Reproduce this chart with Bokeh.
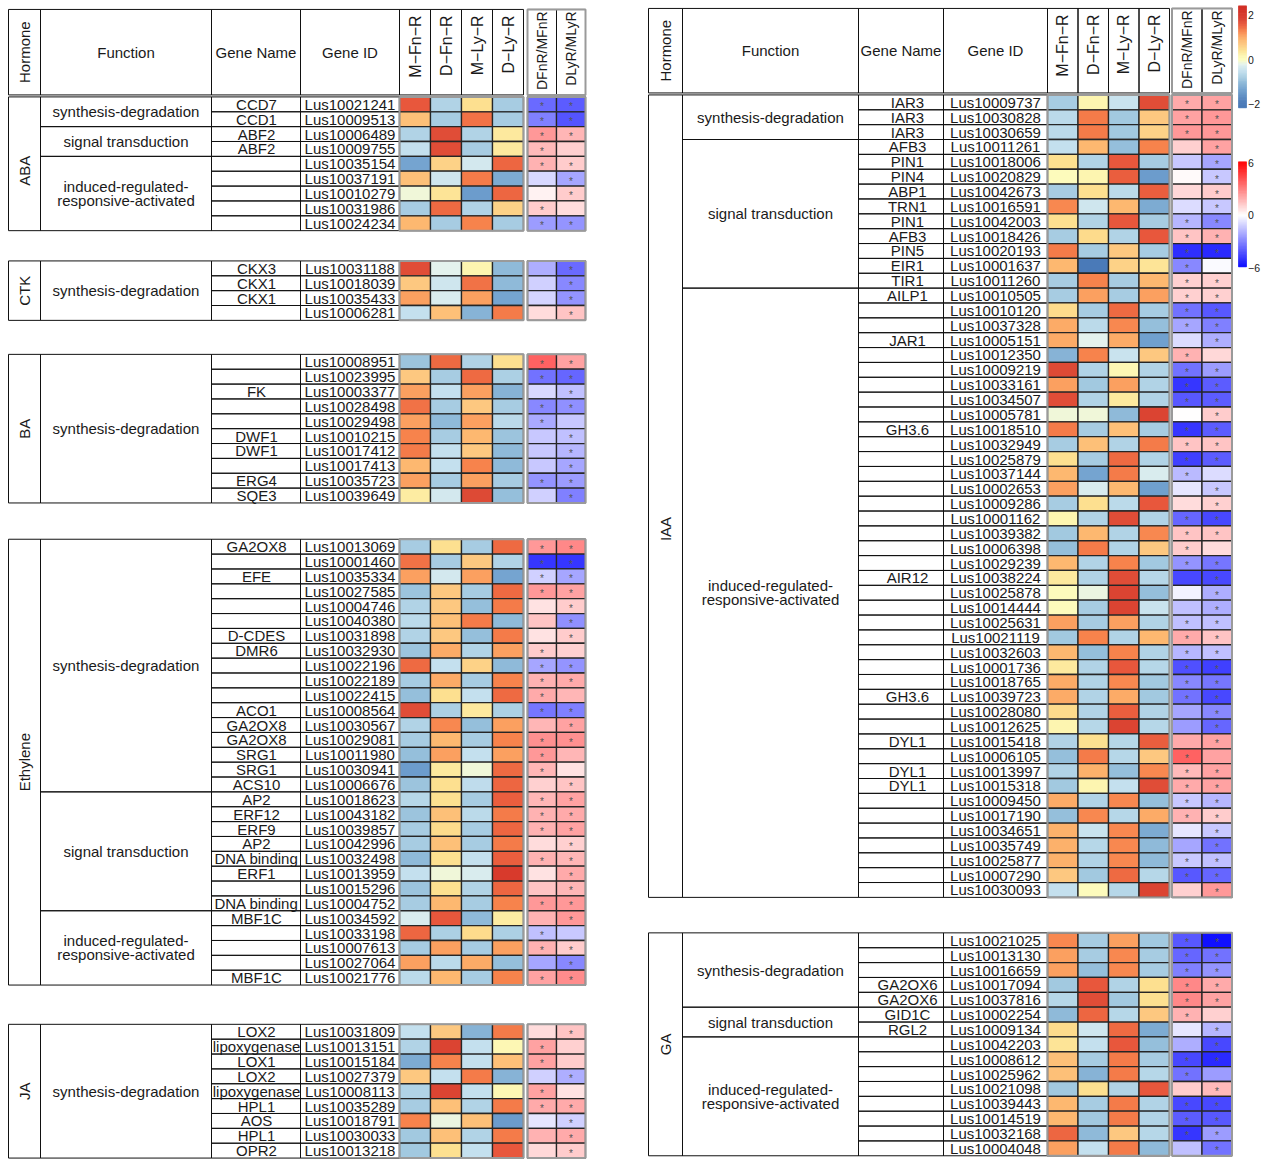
import numpy as np
from bokeh.plotting import figure
from bokeh.models import Range1d, ColumnDataSource, LinearColorMapper
from bokeh.transform import transform
from bokeh.embed import file_html
from bokeh.resources import INLINE
from bokeh.core.properties import value

# ---------------- data ----------------
HEAT_COLS = ["M\u2212Fn\u2212R", "D\u2212Fn\u2212R", "M\u2212Ly\u2212R", "D\u2212Ly\u2212R"]
RATIO_COLS = ["DFnR/MFnR", "DLyR/MLyR"]
HEAT_TICKS = [2, 0, -2]
RATIO_TICKS = [6, 0, -6]

SD = "synthesis-degradation"
ST = "signal transduction"
IR = "induced-regulated-\nresponsive-activated"

# ABA
aba_groups = [(SD, 2), (ST, 2), (IR, 5)]
aba_names = ["CCD7", "CCD1", "ABF2", "ABF2", "", "", "", "", ""]
aba_ids = ["Lus10021241", "Lus10009513", "Lus10006489", "Lus10009755", "Lus10035154",
           "Lus10037191", "Lus10010279", "Lus10031986", "Lus10024234"]
aba_mfn = [1.6, 0.8, -0.7, -0.5, -1.3, 0.8, -0.1, -0.8, 0.9]
aba_dfn = [-0.7, -0.8, 1.7, 1.7, 0.6, -0.4, 0.4, 1.45, -0.8]
aba_mly = [0.45, 1.4, -0.7, -0.8, -0.35, 1.35, -1.4, -0.7, 1.3]
aba_dly = [-0.8, -0.8, 0.35, 0.35, 1.5, -1.2, 1.5, 0.6, -0.8]
aba_rfn = [-3.5, -3.0, 2.4, 1.6, 1.8, -0.9, 0.3, 1.2, -2.3]
aba_rly = [-3.8, -4.0, 1.7, 1.1, 1.2, -2.1, 1.2, 0.8, -2.5]
aba_sfn = [1, 1, 1, 1, 1, 0, 0, 1, 1]
aba_sly = [1, 1, 1, 0, 1, 1, 1, 0, 1]

# CTK
ctk_groups = [(SD, 4)]
ctk_names = ["CKX3", "CKX1", "CKX1", ""]
ctk_ids = ["Lus10031188", "Lus10018039", "Lus10035433", "Lus10006281"]
ctk_mfn = [1.7, 0.7, 1.1, -0.5]
ctk_dfn = [-0.2, -0.4, -0.3, 0.8]
ctk_mly = [0.2, 1.4, 1.1, -1.1]
ctk_dly = [-1.0, -1.0, -1.3, 1.35]
ctk_rfn = [-1.9, -1.1, -1.0, 0.8]
ctk_rly = [-3.5, -2.8, -2.5, 1.4]
ctk_sfn = [0, 0, 0, 0]
ctk_sly = [1, 1, 1, 1]

# BA
ba_groups = [(SD, 10)]
ba_names = ["", "", "FK", "", "", "DWF1", "DWF1", "", "ERG4", "SQE3"]
ba_ids = ["Lus10008951", "Lus10023995", "Lus10003377", "Lus10028498", "Lus10029498",
          "Lus10010215", "Lus10017412", "Lus10017413", "Lus10035723", "Lus10039649"]
ba_mfn = [-0.9, 0.7, 1.1, 1.4, 1.1, 1.3, 1.35, 0.9, 1.1, 0.3]
ba_dfn = [1.45, -0.8, -0.5, -0.8, -1.0, -0.8, -0.5, -0.5, -0.8, -0.35]
ba_mly = [-0.7, 1.45, 1.1, 0.7, 1.1, 0.9, 0.7, 1.3, 1.1, 1.75]
ba_dly = [0.45, -0.75, -1.1, -0.8, -0.6, -0.9, -1.0, -1.0, -0.8, -0.95]
ba_rfn = [3.7, -3.3, -0.9, -2.8, -2.0, -1.3, -1.3, -1.3, -2.5, -1.1]
ba_rly = [2.2, -3.6, -1.5, -2.6, -1.3, -1.5, -1.7, -2.1, -2.3, -3.0]
ba_sfn = [1, 1, 0, 1, 1, 0, 0, 0, 1, 0]
ba_sly = [1, 1, 1, 1, 0, 1, 1, 1, 1, 1]

# Ethylene
eth_groups = [(SD, 17), (ST, 8), (IR, 5)]
eth_names = ["GA2OX8", "", "EFE", "", "", "", "D-CDES", "DMR6", "", "",
             "", "ACO1", "GA2OX8", "GA2OX8", "SRG1", "SRG1", "ACS10", "AP2", "ERF12", "ERF9",
             "AP2", "DNA binding", "ERF1", "", "DNA binding", "MBF1C", "", "", "", "MBF1C"]
eth_ids = ["Lus10013069", "Lus10001460", "Lus10035334", "Lus10027585", "Lus10004746",
           "Lus10040380", "Lus10031898", "Lus10032930", "Lus10022196", "Lus10022189",
           "Lus10022415", "Lus10008564", "Lus10030567", "Lus10029081", "Lus10011980",
           "Lus10030941", "Lus10006676", "Lus10018623", "Lus10043182", "Lus10039857",
           "Lus10042996", "Lus10032498", "Lus10013959", "Lus10015296", "Lus10004752",
           "Lus10034592", "Lus10033198", "Lus10007613", "Lus10027064", "Lus10021776"]
eth_mfn = [-0.8, 1.4, 1.1, -0.9, -0.7, -0.6, -0.7, -0.9, 1.45, -0.8,
           -0.95, 1.7, -0.7, -0.8, -0.95, -1.4, -0.9, -0.65, -0.9, -0.8,
           -0.8, -1.0, -0.5, -0.9, -0.8, -0.3, 1.5, -0.8, 1.1, -0.6]
eth_dfn = [0.45, -0.8, -0.35, 0.7, 0.7, 0.8, 0.7, 1.0, -0.5, 1.0,
           0.45, -0.75, 1.25, 0.9, 1.1, 0.35, 0.45, 0.45, 0.8, 0.5,
           0.8, 0.45, -0.1, 0.45, 0.9, 1.6, -0.75, 1.1, -0.6, 0.9]
eth_mly = [-0.8, 0.7, 1.1, -0.8, -0.95, 1.35, -0.95, -0.7, 0.6, -0.8,
           -0.5, 0.35, -0.95, -0.8, -0.5, -0.1, -0.55, -0.8, -0.6, -0.8,
           -0.8, -0.5, -0.3, -0.7, -0.8, -1.0, 0.5, -0.8, 1.0, -0.8]
eth_dly = [1.45, -0.7, -1.3, 1.45, 1.35, -1.0, 1.35, 1.1, -1.0, 1.3,
           1.45, -0.75, 1.1, 1.3, 1.1, 1.45, 1.5, 1.55, 1.35, 1.5,
           1.35, 1.55, 1.9, 1.5, 1.3, 0.3, -0.75, 1.1, -0.95, 1.3]
eth_rfn = [2.4, -4.7, -1.1, 2.4, 0.7, 1.4, 0.7, 1.2, -2.1, 1.8,
           2.0, -3.2, 1.7, 2.6, 2.4, 1.7, 1.1, 1.7, 1.8, 1.8,
           0.8, 1.8, 0.7, 1.4, 2.4, 1.8, -1.5, 1.8, -2.1, 2.2]
eth_rly = [2.8, -4.7, -2.1, 2.2, 1.2, -2.6, 1.2, 1.1, -2.5, 2.0,
           1.7, -3.0, 2.2, 2.6, 1.7, 0.7, 1.4, 2.2, 2.0, 2.2,
           1.1, 1.7, 2.0, 1.7, 2.4, 2.4, -1.3, 1.2, -2.8, 2.7]
eth_sfn = [1, 1, 1, 1, 0, 0, 0, 1, 1, 1, 1, 1, 0, 1, 1, 1, 0, 1, 1, 1,
           0, 1, 0, 0, 1, 0, 1, 1, 0, 1]
eth_sly = [1, 1, 1, 1, 1, 1, 1, 0, 1, 1, 0, 1, 1, 1, 0, 0, 1, 1, 1, 1,
           1, 1, 1, 1, 1, 1, 0, 1, 1, 1]

# JA
ja_groups = [(SD, 9)]
ja_names = ["LOX2", "lipoxygenase", "LOX1", "LOX2", "lipoxygenase", "HPL1", "AOS", "HPL1", "OPR2"]
ja_ids = ["Lus10031809", "Lus10013151", "Lus10015184", "Lus10027379", "Lus10008113",
          "Lus10035289", "Lus10018791", "Lus10030033", "Lus10013218"]
ja_mfn = [-0.5, -0.7, -1.2, 0.7, -0.7, -0.8, 1.3, -0.85, -0.85]
ja_dfn = [0.7, 1.8, 1.3, -0.5, 1.8, 0.8, -0.15, 0.8, 0.45]
ja_mly = [-1.1, -0.5, -0.5, 1.35, -0.5, -0.7, 0.8, -0.7, -0.5]
ja_dly = [1.35, 0.15, 0.8, -1.1, 0.15, 1.35, -1.4, 1.35, 1.6]
ja_rfn = [0.8, 2.2, 2.2, -1.1, 2.2, 2.0, -0.6, 1.8, 0.9]
ja_rly = [1.4, 1.1, 1.2, -1.9, 0.7, 2.0, -1.1, 2.0, 1.2]
ja_sfn = [0, 1, 1, 0, 1, 1, 0, 0, 0]
ja_sly = [1, 0, 0, 1, 0, 1, 1, 1, 1]

# IAA
iaa_groups = [(SD, 3), (ST, 10), (IR, 41)]
iaa_names = ["IAR3", "IAR3", "IAR3", "AFB3", "PIN1", "PIN4", "ABP1", "TRN1", "PIN1", "AFB3",
             "PIN5", "EIR1", "TIR1", "AILP1", "", "", "JAR1", "", "", "",
             "", "", "GH3.6", "", "", "", "", "", "", "",
             "", "", "AIR12", "", "", "", "", "", "", "",
             "GH3.6", "", "", "DYL1", "", "DYL1", "DYL1", "", "", "",
             "", "", "", ""]
iaa_ids = ["Lus10009737", "Lus10030828", "Lus10030659", "Lus10011261", "Lus10018006",
           "Lus10020829", "Lus10042673", "Lus10016591", "Lus10042003", "Lus10018426",
           "Lus10020193", "Lus10001637", "Lus10011260", "Lus10010505", "Lus10010120",
           "Lus10037328", "Lus10005151", "Lus10012350", "Lus10009219", "Lus10033161",
           "Lus10034507", "Lus10005781", "Lus10018510", "Lus10032949", "Lus10025879",
           "Lus10037144", "Lus10002653", "Lus10009286", "Lus10001162", "Lus10039382",
           "Lus10006398", "Lus10029239", "Lus10038224", "Lus10025878", "Lus10014444",
           "Lus10025631", "Lus10021119", "Lus10032603", "Lus10001736", "Lus10018765",
           "Lus10039723", "Lus10028080", "Lus10012625", "Lus10015418", "Lus10006105",
           "Lus10013997", "Lus10015318", "Lus10009450", "Lus10017190", "Lus10034651",
           "Lus10035749", "Lus10025877", "Lus10007290", "Lus10030093"]
iaa_mfn = [-0.8, -0.6, -0.6, -0.5, 0.45, 0.05, -0.8, 1.25, 0.45, -0.8,
           1.35, 0.9, -0.8, -0.8, 0.5, 1.0, 1.0, -1.1, 1.75, 1.1,
           1.7, -0.1, 1.35, -0.8, 0.45, 0.9, 1.1, -0.8, 0.2, -0.85,
           -0.95, 0.9, 0.35, 0.05, 0.05, 1.1, -0.85, 0.9, 0.35, 1.0,
           1.0, 0.5, 0.2, -0.7, -0.95, -0.7, -0.85, 1.0, -0.95, 0.95,
           0.95, 0.95, 0.7, -0.5]
iaa_dfn = [0.2, 1.35, 1.35, 0.9, -0.7, 0.2, 0.45, -0.4, -0.7, 0.5,
           -0.8, -1.9, 1.3, 1.1, -0.8, -0.6, -0.2, 1.3, -0.7, -0.85,
           -0.7, -0.1, -0.8, 0.8, -0.8, -1.3, -0.3, 0.45, -0.7, 0.9,
           1.35, -0.7, -0.7, -0.15, -0.8, -0.8, 1.3, -0.95, -0.7, -0.7,
           -0.7, -0.7, -0.65, 0.45, 1.35, 0.95, 0.2, -0.7, 1.25, -0.45,
           -0.65, -0.7, -0.85, 0.05]
iaa_mly = [-0.45, -0.85, -0.85, -0.95, 1.6, 1.55, -0.6, 0.9, 1.6, -0.7,
           0.7, 0.6, -0.8, -0.8, 1.45, 1.25, 1.0, -0.45, 0.15, 1.1,
           0.35, -1.0, 0.8, -0.7, 1.45, 1.35, 0.9, -0.6, 1.7, -0.7,
           -0.7, 1.3, 1.7, 1.8, 1.8, 1.1, -0.7, 1.3, 1.6, 1.25,
           1.0, 1.55, 1.8, -0.65, -0.65, -0.95, -0.5, 1.25, -0.65, 1.25,
           1.25, 1.25, 1.45, -0.65]
iaa_dly = [1.7, 0.7, 0.6, 1.3, -0.8, -1.4, 1.55, -1.2, -0.8, 1.6,
           -0.8, 0.4, 0.9, 1.1, -0.8, -0.95, -1.35, 0.7, -0.7, -0.7,
           -0.7, 1.8, -0.8, 1.35, -0.7, -0.3, -1.35, 1.6, -0.7, 1.25,
           0.7, -0.85, -0.65, -0.95, -0.45, -0.7, 0.9, -0.7, -0.65, -0.85,
           -0.85, -0.7, -0.65, 1.55, 0.7, 1.25, 1.7, -0.95, 1.0, -1.2,
           -1.0, -1.0, -0.65, 1.8]
iaa_rfn = [2.0, 2.2, 2.4, 1.1, -1.3, 0.1, 0.9, -0.8, -1.7, 1.4,
           -4.9, -2.8, 1.1, 1.1, -3.3, -2.1, -0.8, 1.8, -3.3, -4.7,
           -3.9, 0.0, -4.7, 1.4, -4.5, -1.6, -0.6, 0.8, -3.6, 1.4,
           1.2, -2.5, -4.3, -0.3, -1.5, -1.5, 2.0, -1.7, -4.1, -2.8,
           -3.3, -2.1, -2.3, 2.0, 3.7, 1.6, 2.0, -1.3, 1.8, -0.6,
           -2.1, -1.3, -3.9, 1.1]
iaa_rly = [2.2, 2.4, 2.4, 2.2, -2.1, -1.3, 1.2, -1.3, -2.8, 1.8,
           -5.0, -0.1, 1.1, 1.1, -3.9, -3.0, -1.9, 0.9, -2.3, -3.8,
           -3.8, 1.2, -3.8, 1.4, -3.8, -0.8, -1.3, 1.1, -4.3, 1.4,
           0.8, -3.2, -4.3, -1.9, -1.9, -1.5, 1.4, -1.5, -4.5, -3.2,
           -4.3, -2.8, -3.6, 2.2, 2.2, 2.2, 2.2, -1.7, 1.2, -1.3,
           -3.3, -1.5, -3.6, 2.4]
iaa_sfn = [1, 1, 1, 0, 0, 0, 0, 0, 1, 1, 1, 1, 1, 1, 1, 1, 0, 1, 1, 1,
           1, 0, 1, 1, 1, 1, 0, 0, 1, 1, 1, 1, 0, 0, 0, 1, 1, 1, 1, 1,
           1, 0, 0, 0, 1, 1, 1, 1, 1, 0, 0, 1, 1, 0]
iaa_sly = [1, 1, 1, 1, 1, 1, 1, 1, 1, 1, 1, 0, 1, 1, 1, 1, 1, 0, 1, 1,
           1, 1, 1, 1, 1, 0, 1, 1, 1, 1, 0, 1, 1, 1, 1, 1, 1, 1, 1, 1,
           1, 1, 1, 1, 0, 1, 1, 1, 1, 1, 1, 1, 1, 1]

# GA
ga_groups = [(SD, 5), (ST, 2), (IR, 8)]
ga_names = ["", "", "", "GA2OX6", "GA2OX6", "GID1C", "RGL2", "", "", "", "", "", "", "", ""]
ga_ids = ["Lus10021025", "Lus10013130", "Lus10016659", "Lus10017094", "Lus10037816",
          "Lus10002254", "Lus10009134", "Lus10042203", "Lus10008612", "Lus10025962",
          "Lus10021098", "Lus10039443", "Lus10014519", "Lus10032168", "Lus10004048"]
ga_mfn = [1.25, 1.1, 1.1, -0.85, -0.65, -1.0, 0.5, 0.4, 0.8, 0.8, -0.85, 0.9, 0.9, 1.5, 1.1]
ga_dfn = [-0.8, -0.8, -0.95, 1.6, 1.7, 1.5, -0.4, -0.5, -0.8, -1.1, 0.45, -0.8, -0.85, -1.0, -0.5]
ga_mly = [1.1, 1.25, 1.25, -0.7, -0.85, -0.65, 1.45, 1.6, 1.35, 1.35, -0.7, 1.35, 1.35, 0.7, 1.35]
ga_dly = [-0.85, -0.8, -0.8, 0.45, 0.45, 0.7, -1.2, -0.95, -0.8, -0.65, 1.6, -0.7, -0.7, -0.65, -1.0]
ga_rfn = [-3.9, -3.6, -3.0, 2.8, 2.8, 1.8, -0.6, -1.9, -4.3, -3.3, 1.2, -4.3, -3.8, -4.7, -1.5]
ga_rly = [-5.6, -3.3, -2.5, 2.0, 2.2, 1.1, -1.7, -4.3, -5.0, -2.3, 1.6, -4.3, -3.9, -2.3, -3.3]
ga_sfn = [1, 1, 1, 1, 1, 1, 0, 0, 1, 1, 0, 1, 1, 1, 0]
ga_sly = [1, 1, 1, 1, 1, 0, 1, 1, 1, 0, 1, 1, 1, 1, 1]

# ---------------- style / layout ----------------
FONT = value("Liberation Sans")
TXT = "#1a1a1a"
ROW_H = 14.95
HEAT_ANCHORS = [(-2.2, "#4575b4"), (-1.9, "#4a7ab8"), (-1.35, "#70a0ce"), (-1.0, "#90bbd9"),
                (-0.8, "#a8cde2"), (-0.5, "#c4e0ee"), (-0.2, "#e4f2ee"), (0.0, "#fdfdc0"),
                (0.2, "#fdf5b0"), (0.45, "#fde090"), (0.7, "#fdc880"), (0.9, "#fdb870"),
                (1.1, "#fba060"), (1.3, "#f7834c"), (1.45, "#ef6c43"), (1.6, "#e8583c"),
                (1.75, "#dd4a35"), (1.9, "#d83a2c"), (2.4, "#d0281e")]
RATIO_ANCHORS = [(-6.0, "#0000ff"), (0.0, "#ffffff"), (6.0, "#ff0000")]


def make_palette(anchors, n=256):
    v = np.array([a for a, _ in anchors], float)
    c = np.array([[int(h[i:i + 2], 16) for i in (1, 3, 5)] for _, h in anchors], float)
    g = np.linspace(v[0], v[-1], n)
    rgb = np.column_stack([np.interp(g, v, c[:, k]) for k in range(3)])
    return ["#%02x%02x%02x" % tuple(int(round(x)) for x in r) for r in rgb], v[0], v[-1]


hp, hlo, hhi = make_palette(HEAT_ANCHORS)
rp, rlo, rhi = make_palette(RATIO_ANCHORS)
heat_mapper = LinearColorMapper(palette=hp, low=hlo, high=hhi)
ratio_mapper = LinearColorMapper(palette=rp, low=rlo, high=rhi)

LEFT = dict(h=(8, 40), f=(40, 211), n=(211, 300), i=(300, 399), hx=399.0, hw=31.0,
            rx=527.0, rw=29.0, head=(9, 95), ncx=256)
RIGHT = dict(h=(648, 682), f=(682, 858), n=(858, 943), i=(943, 1047), hx=1047.0, hw=30.5,
             rx=1171.5, rw=30.0, head=(8, 93), ncx=907)
LABEL_SHIFT = {"ABA": 7, "IAA": 33}

BLOCKS = [
    (LEFT, 97, "ABA", aba_groups, aba_names, aba_ids, [aba_mfn, aba_dfn, aba_mly, aba_dly], [aba_rfn, aba_rly], [aba_sfn, aba_sly]),
    (LEFT, 262, "CTK", ctk_groups, ctk_names, ctk_ids, [ctk_mfn, ctk_dfn, ctk_mly, ctk_dly], [ctk_rfn, ctk_rly], [ctk_sfn, ctk_sly]),
    (LEFT, 356, "BA", ba_groups, ba_names, ba_ids, [ba_mfn, ba_dfn, ba_mly, ba_dly], [ba_rfn, ba_rly], [ba_sfn, ba_sly]),
    (LEFT, 542, "Ethylene", eth_groups, eth_names, eth_ids, [eth_mfn, eth_dfn, eth_mly, eth_dly], [eth_rfn, eth_rly], [eth_sfn, eth_sly]),
    (LEFT, 1030, "JA", ja_groups, ja_names, ja_ids, [ja_mfn, ja_dfn, ja_mly, ja_dly], [ja_rfn, ja_rly], [ja_sfn, ja_sly]),
    (RIGHT, 95, "IAA", iaa_groups, iaa_names, iaa_ids, [iaa_mfn, iaa_dfn, iaa_mly, iaa_dly], [iaa_rfn, iaa_rly], [iaa_sfn, iaa_sly]),
    (RIGHT, 938, "GA", ga_groups, ga_names, ga_ids, [ga_mfn, ga_dfn, ga_mly, ga_dly], [ga_rfn, ga_rly], [ga_sfn, ga_sly]),
]

# ---------------- collectors ----------------
def coll(*keys):
    return {k: [] for k in keys}

outline = coll("l", "r", "t", "b")
frames = coll("l", "r", "t", "b")
heat = coll("l", "r", "t", "b", "v")
ratio = coll("l", "r", "t", "b", "v")
txt_c = coll("x", "y", "text")
txt_rot = coll("x", "y", "text")
hdr_heat = coll("x", "y", "text")
hdr_ratio = coll("x", "y", "text")
stars = coll("x", "y", "text")


def box(d, l, r, t, b, **extra):
    d["l"].append(l); d["r"].append(r); d["t"].append(t); d["b"].append(b)
    for k, v in extra.items():
        d[k].append(v)


def put(d, x, y, s):
    d["x"].append(x); d["y"].append(y); d["text"].append(s)


def mid(a):
    return (a[0] + a[1]) / 2.0


def header(P):
    y0, y1 = P["head"]
    for key in ("h", "f", "n", "i"):
        a, b = P[key]
        box(outline, a, b, y0, y1)
    put(txt_rot, mid(P["h"]), (y0 + y1) / 2, "Hormone")
    put(txt_c, mid(P["f"]), (y0 + y1) / 2, "Function")
    put(txt_c, mid(P["n"]), (y0 + y1) / 2, "Gene Name")
    put(txt_c, mid(P["i"]), (y0 + y1) / 2, "Gene ID")
    for k, lab in enumerate(HEAT_COLS):
        xl = P["hx"] + k * P["hw"]
        box(outline, xl, xl + P["hw"], y0, y1)
        put(hdr_heat, xl + P["hw"] / 2, y0 + 6, lab)
    for k, lab in enumerate(RATIO_COLS):
        xl = P["rx"] + k * P["rw"]
        box(outline, xl, xl + P["rw"], y0, y1)
        put(hdr_ratio, xl + P["rw"] / 2, y0 + 2, lab)
    box(frames, P["rx"], P["rx"] + 2 * P["rw"], y0, y1)


def block(P, y0, hormone, groups, names, ids, hv, rv, sv):
    n = len(ids)
    y1 = y0 + n * ROW_H
    box(outline, P["h"][0], P["h"][1], y0, y1)
    put(txt_rot, mid(P["h"]), (y0 + y1) / 2 + LABEL_SHIFT.get(hormone, 0), hormone)
    k = 0
    for label, cnt in groups:
        gy0 = y0 + k * ROW_H
        gy1 = gy0 + cnt * ROW_H
        box(outline, P["f"][0], P["f"][1], gy0, gy1)
        lines = label.split("\n")
        for j, line in enumerate(lines):
            put(txt_c, mid(P["f"]), (gy0 + gy1) / 2 + (j - (len(lines) - 1) / 2) * 14, line)
        k += cnt
    for r in range(n):
        ry0 = y0 + r * ROW_H
        ry1 = ry0 + ROW_H
        cy = (ry0 + ry1) / 2
        box(outline, P["n"][0], P["n"][1], ry0, ry1)
        box(outline, P["i"][0], P["i"][1], ry0, ry1)
        if names[r]:
            put(txt_c, P["ncx"], cy, names[r])
        put(txt_c, mid(P["i"]), cy, ids[r])
        for c in range(4):
            xl = P["hx"] + c * P["hw"]
            box(heat, xl, xl + P["hw"], ry0, ry1, v=hv[c][r])
        for c in range(2):
            xl = P["rx"] + c * P["rw"]
            box(ratio, xl, xl + P["rw"], ry0, ry1, v=rv[c][r])
            if sv[c][r]:
                put(stars, xl + P["rw"] / 2, cy + 2.5, "*")
    box(frames, P["hx"], P["hx"] + 4 * P["hw"], y0, y1)
    box(frames, P["rx"], P["rx"] + 2 * P["rw"], y0, y1)


header(LEFT)
header(RIGHT)
for b in BLOCKS:
    block(*b)

# colour bars
CB_X = (1238, 1246)
cb_heat = coll("l", "r", "t", "b", "v")
cb_ratio = coll("l", "r", "t", "b", "v")
hv_ramp = np.linspace(-2.15, 2.4, 140)
dh = hv_ramp[1] - hv_ramp[0]
for v in hv_ramp:
    box(cb_heat, CB_X[0], CB_X[1], 59.5 - (v + dh / 2) * 22.4, 59.5 - (v - dh / 2) * 22.4, v=float(v))
rv_ramp = np.linspace(-5.85, 6.05, 140)
dr = rv_ramp[1] - rv_ramp[0]
for v in rv_ramp:
    box(cb_ratio, CB_X[0], CB_X[1], 216 - (v + dr / 2) * 8.83, 216 - (v - dr / 2) * 8.83, v=float(v))
cb_lab = coll("x", "y", "text")
for t in HEAT_TICKS:
    put(cb_lab, CB_X[1] + 1.5, 59.5 - t * 22.4, str(t).replace("-", "\u2212"))
for t in RATIO_TICKS:
    put(cb_lab, CB_X[1] + 1.5, 216 - t * 8.83, str(t).replace("-", "\u2212"))

# ---------------- figure ----------------
p = figure(width=1261, height=1160, x_range=Range1d(0, 1261), y_range=Range1d(1167, 0),
           output_backend="svg", toolbar_location=None, min_border=0)
p.axis.visible = False
p.grid.visible = False
p.outline_line_color = None
p.background_fill_color = "white"

p.quad(left="l", right="r", top="t", bottom="b", source=ColumnDataSource(heat),
       fill_color=transform("v", heat_mapper), line_color="#262626", line_width=1.3)
p.quad(left="l", right="r", top="t", bottom="b", source=ColumnDataSource(ratio),
       fill_color=transform("v", ratio_mapper), line_color="#262626", line_width=1.3)
p.quad(left="l", right="r", top="t", bottom="b", source=ColumnDataSource(outline),
       fill_color=None, line_color="#111111", line_width=1)
p.quad(left="l", right="r", top="t", bottom="b", source=ColumnDataSource(frames),
       fill_color=None, line_color="#9a9a9a", line_width=2)
p.quad(left="l", right="r", top="t", bottom="b", source=ColumnDataSource(cb_heat),
       fill_color=transform("v", heat_mapper), line_color=transform("v", heat_mapper), line_width=0.5)
p.quad(left="l", right="r", top="t", bottom="b", source=ColumnDataSource(cb_ratio),
       fill_color=transform("v", ratio_mapper), line_color=transform("v", ratio_mapper), line_width=0.5)

p.text(x="x", y="y", text="text", source=ColumnDataSource(txt_c), text_align="center",
       text_baseline="middle", text_font=FONT, text_font_size="15px", text_color=TXT)
p.text(x="x", y="y", text="text", source=ColumnDataSource(txt_rot), angle=np.pi / 2,
       text_align="center", text_baseline="middle", text_font=FONT, text_font_size="15px", text_color=TXT)
p.text(x="x", y="y", text="text", source=ColumnDataSource(hdr_heat), angle=np.pi / 2,
       text_align="right", text_baseline="middle", text_font=FONT, text_font_size="16px", text_color=TXT)
p.text(x="x", y="y", text="text", source=ColumnDataSource(hdr_ratio), angle=np.pi / 2,
       text_align="right", text_baseline="middle", text_font=FONT, text_font_size="14px", text_color=TXT)
p.text(x="x", y="y", text="text", source=ColumnDataSource(stars), text_align="center",
       text_baseline="middle", text_font=FONT, text_font_size="10px", text_color="#555555")
p.text(x="x", y="y", text="text", source=ColumnDataSource(cb_lab), text_align="left",
       text_baseline="middle", text_font=FONT, text_font_size="10.5px", text_color=TXT)

open("out.html", "w").write(file_html(p, INLINE))
